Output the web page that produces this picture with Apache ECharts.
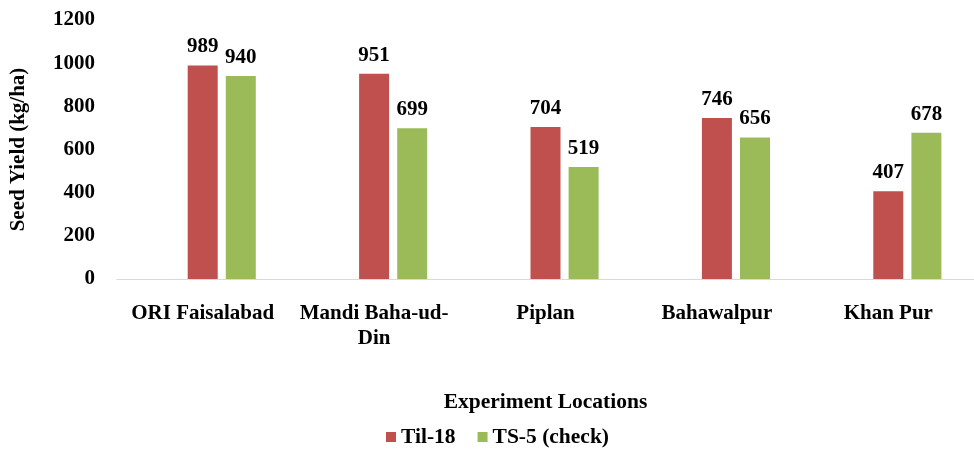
<!DOCTYPE html>
<html><head><meta charset="utf-8">
<script src="https://cdn.jsdelivr.net/npm/echarts@6/dist/echarts.min.js"></script>
<style>html,body{margin:0;padding:0;background:#fff}#c{width:974px;height:450px}</style>
</head><body><div id="c"></div>
<script>
const categories = ['ORI Faisalabad', 'Mandi Baha-ud-\nDin', 'Piplan', 'Bahawalpur', 'Khan Pur'];
const til18 = [989, 951, 704, 746, 407];
const ts5 = [940, 699, 519, 656, 678];
const blank = [null, null, null, null, null];
const yTicks = {min: 0, max: 1200, interval: 200};

const font = 'Liberation Serif';
const chart = echarts.init(document.getElementById('c'));
chart.setOption({
  animation: false,
  textStyle: {fontFamily: font},
  grid: {left: 112, width: 870, top: 20, bottom: 171},
  legend: {
    data: ['Til-18', 'TS-5 (check)'],
    left: 381, top: 421, itemWidth: 10, itemHeight: 10, itemGap: 22,
    icon: 'rect',
    textStyle: {fontFamily: font, fontWeight: 'bold', fontSize: 21.5, color: '#000'}
  },
  xAxis: {
    type: 'category', data: categories,
    name: 'Experiment Locations', nameLocation: 'middle', nameGap: 112,
    nameTextStyle: {fontFamily: font, fontWeight: 'bold', fontSize: 21.5, color: '#000'},
    axisLine: {lineStyle: {color: '#d9d9d9', width: 1}},
    axisTick: {show: false},
    axisLabel: {fontFamily: font, fontWeight: 'bold', fontSize: 21, color: '#000', margin: 22, lineHeight: 25, interval: 0}
  },
  yAxis: {
    type: 'value', min: yTicks.min, max: yTicks.max, interval: yTicks.interval,
    name: 'Seed Yield (kg/ha)', nameLocation: 'middle', nameGap: 88,
    nameTextStyle: {fontFamily: font, fontWeight: 'bold', fontSize: 21, color: '#000'},
    axisLine: {show: false}, axisTick: {show: false},
    splitLine: {show: false},
    axisLabel: {fontFamily: font, fontWeight: 'bold', fontSize: 21, color: '#000', margin: 22,
      formatter: v => String(v)}
  },
  series: [
    {name: 'blank', type: 'bar', data: blank, barWidth: 30, barGap: '27%'},
    {name: 'Til-18', type: 'bar', data: til18, barWidth: 30, barGap: '27%',
     itemStyle: {color: '#C0504D'},
     label: {show: true, position: 'top', distance: 8, fontFamily: font, fontWeight: 'bold', fontSize: 21, color: '#000'}},
    {name: 'TS-5 (check)', type: 'bar', data: ts5, barWidth: 30, barGap: '27%',
     itemStyle: {color: '#9BBB59'},
     label: {show: true, position: 'top', distance: 8, fontFamily: font, fontWeight: 'bold', fontSize: 21, color: '#000'}}
  ]
});
</script></body></html>
